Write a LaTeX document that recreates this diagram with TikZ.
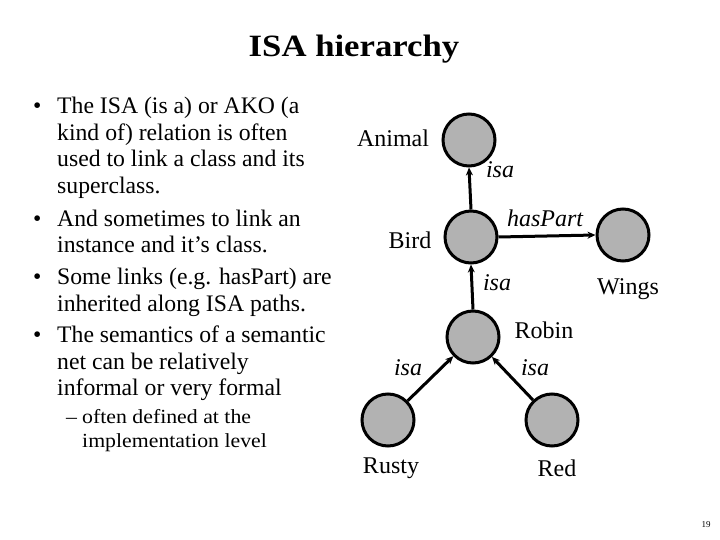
\documentclass[tikz,border=0pt]{standalone}
\usepackage{fontspec}
\setmainfont{Liberation Serif}
\usetikzlibrary{arrows.meta}
\begin{document}
\begin{tikzpicture}[x=1pt,y=-1pt,
  concept/.style={circle,draw=black,line width=3pt,fill=black!30,minimum size=52pt,inner sep=0pt},
  link/.style={line width=3pt,-{Stealth[length=8pt,width=7pt]}},
  rel/.style={font=\fontsize{24}{28}\selectfont\itshape,inner sep=0pt},
  lab/.style={font=\fontsize{24}{28}\selectfont,inner sep=0pt},
  bul/.style={font=\fontsize{23.7}{28}\selectfont,anchor=base west,inner sep=0pt},
  subbul/.style={font=\fontsize{20}{24}\selectfont\addfontfeature{FakeStretch=1.09},anchor=base west,inner sep=0pt}]
\useasboundingbox (0,0) rectangle (720,540);
\node[font=\fontsize{31}{34}\selectfont\bfseries\addfontfeature{FakeStretch=1.12},inner sep=0pt,anchor=base] (title) at (354,57) {ISA hierarchy};
% bullets
\node[bul] (b1d) at (33,114) {•};
\node[bul] (b1a) at (57,114) {The ISA (is a) or AKO (a};
\node[bul] (b1b) at (57,141) {kind of) relation is often};
\node[bul] (b1c) at (57,167) {used to link a class and its};
\node[bul] (b1e) at (57,194) {superclass.};
\node[bul] (b2d) at (33,226) {•};
\node[bul] (b2a) at (57,226) {And sometimes to link an};
\node[bul] (b2b) at (57,252) {instance and it’s class.};
\node[bul] (b3d) at (33,284) {•};
\node[bul] (b3a) at (57,284) {Some links (e.g. hasPart) are};
\node[bul] (b3b) at (57,311) {inherited along ISA paths.};
\node[bul] (b4d) at (33,342) {•};
\node[bul] (b4a) at (57,342) {The semantics of a semantic};
\node[bul] (b4b) at (57,369) {net can be relatively};
\node[bul] (b4c) at (57,395) {informal or very formal};
\node[subbul] (s1d) at (66,423) {–};
\node[subbul] (s1a) at (82,423) {often defined at the};
\node[subbul] (s1b) at (82,447) {implementation level};
% concepts
\node[concept] (animal) at (469,140) {};
\node[concept] (bird) at (471,237) {};
\node[concept] (wings) at (623,235) {};
\node[concept] (robin) at (473,337) {};
\node[concept] (rusty) at (388,420) {};
\node[concept] (red) at (552,420) {};
% links
\draw[link] (bird.north) -- (animal.south);
\draw[link] (bird.east) -- (wings.west);
\draw[link] (robin.north) -- (bird.south);
\draw[link] (rusty) -- (robin);
\draw[link] (red) -- (robin);
% labels
\node[lab] (animall) at (393,138) {Animal};
\node[lab] (birdl) at (410,240) {Bird};
\node[lab] (wingsl) at (628,289) {Wings};
\node[lab] (robinl) at (544,330) {Robin};
\node[lab] (rustyl) at (391,468) {Rusty};
\node[lab] (redl) at (557,468) {Red};
\node[rel] (r1) at (500,170) {isa};
\node[rel] (r2) at (545,218) {hasPart};
\node[rel] (r3) at (497,283) {isa};
\node[rel] (r4) at (408,368) {isa};
\node[rel] (r5) at (535,368) {isa};
\node[font=\fontsize{9}{10}\selectfont,inner sep=0pt] (page) at (706,525) {19};
\end{tikzpicture}
\end{document}
